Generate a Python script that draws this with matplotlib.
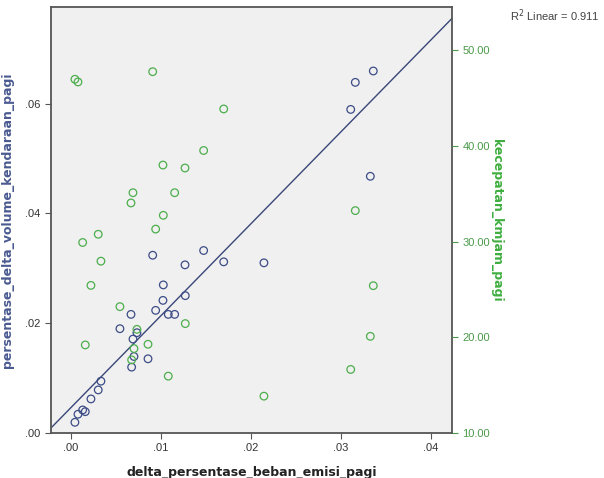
import numpy as np
import matplotlib
matplotlib.use("Agg")
import matplotlib.pyplot as plt
from matplotlib.ticker import FuncFormatter

# shared x values (delta_persentase_beban_emisi_pagi)
emisi = [0.00044, 0.00078, 0.0013, 0.00159, 0.00222, 0.00303, 0.00333,
         0.00544, 0.00667, 0.00689, 0.00674, 0.0070, 0.00733,
         0.00856, 0.00908, 0.00941, 0.01022, 0.01026, 0.01081, 0.01152,
         0.01267, 0.0127, 0.01474, 0.01697, 0.02144, 0.03108, 0.03159,
         0.03326, 0.03359]
# left axis series
volume = [0.00195, 0.00342, 0.0042, 0.00389, 0.00621, 0.00785, 0.00944,
          0.0190, 0.02161, 0.01711, 0.0120, 0.01394, 0.01827,
          0.01352, 0.03238, 0.02234, 0.02416, 0.02698, 0.02161, 0.02161,
          0.03063, 0.02502, 0.03324, 0.03118, 0.0310, 0.05894, 0.06387,
          0.04676, 0.06594]
# right axis series
kecepatan = [46.95, 46.67, 29.9, 19.2, 25.42, 30.76, 27.95,
             23.2, 34.03, 35.1, 17.64, 18.82, 20.83,
             19.27, 47.74, 31.3, 37.99, 32.74, 15.94, 35.1,
             37.68, 21.43, 39.51, 43.85, 13.85, 16.64, 33.23,
             20.1, 25.39]

x_ticks = [0.00, 0.01, 0.02, 0.03, 0.04]
left_ticks = [0.00, 0.02, 0.04, 0.06]
right_ticks = [10, 20, 30, 40, 50]

blue = "#3c4c86"
green = "#4cae4c"

fig = plt.figure(figsize=(6.04, 4.78), dpi=100)
ax = fig.add_axes([0.0844, 0.0941, 0.6639, 0.8913])
ax.set_facecolor("#f0f0f0")
ax2 = ax.twinx()

ax.scatter(emisi, volume, s=30, facecolors="none", edgecolors=blue,
           linewidths=0.9, zorder=3)
ax2.scatter(emisi, kecepatan, s=30, facecolors="none", edgecolors=green,
            linewidths=0.9, zorder=3)

# linear fit of the left series
slope, intercept = np.polyfit(emisi, volume, 1)
xl = np.array([-0.0023, 0.0424])
ax.plot(xl, slope * xl + intercept, color="#3a4778", lw=1.0, zorder=2)

ax.set_xlim(-0.00222, 0.04233)
ax.set_ylim(0, 0.0776)
ax2.set_ylim(10, 54.5)

fmt = FuncFormatter(lambda v, p: ("%.2f" % v).lstrip("0") if v >= 0 else "%.2f" % v)
ax.set_xticks(x_ticks)
ax.set_yticks(left_ticks)
ax.xaxis.set_major_formatter(fmt)
ax.yaxis.set_major_formatter(fmt)
ax2.set_yticks(right_ticks)
ax2.yaxis.set_major_formatter(FuncFormatter(lambda v, p: "%.2f" % v))

for s in ["left", "right", "top", "bottom"]:
    ax.spines[s].set_color("#555555")
    ax.spines[s].set_linewidth(1.3)
    ax2.spines[s].set_visible(False)

ax.tick_params(axis="both", direction="out", length=4, width=0.8,
               colors="#555555", labelsize=8, labelcolor="#333333")
ax2.tick_params(axis="y", direction="out", length=4, width=0.8,
                colors="#4a9a4a", labelsize=8, labelcolor="#4a9a4a")
for lab in ax.get_xticklabels() + ax.get_yticklabels() + ax2.get_yticklabels():
    lab.set_family("Liberation Sans")

ax.set_xlabel("delta_persentase_beban_emisi_pagi", fontsize=9,
              fontweight="bold", color="#222222")
ax.xaxis.set_label_coords(0.5, -0.077)
ax.set_ylabel("persentase_delta_volume_kendaraan_pagi", fontsize=9,
              fontweight="bold", color="#4a5a90")
ax.yaxis.set_label_coords(-0.092, 0.5)
ax2.set_ylabel("kecepatan_kmjam_pagi", fontsize=9, fontweight="bold",
               color="#3fae3f", rotation=-90)
ax2.yaxis.set_label_coords(1.127, 0.5)

fig.text(0.993, 0.968, "R$^2$ Linear = %.3f" % 0.911, ha="right", va="center",
         fontsize=8, color="#444444", family="Liberation Sans")

fig.savefig("out.png", dpi=100, facecolor="white")
